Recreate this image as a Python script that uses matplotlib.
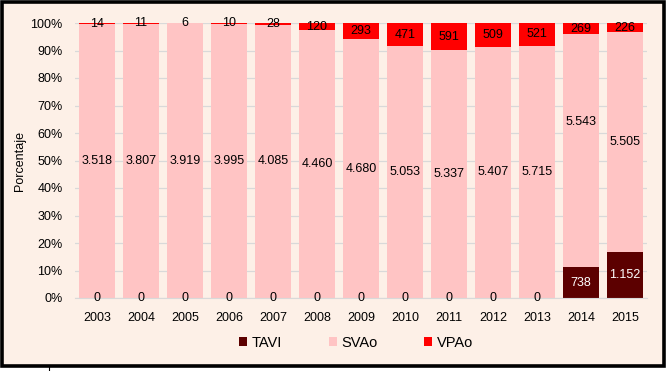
import matplotlib
matplotlib.use("Agg")
import matplotlib.pyplot as plt
from matplotlib.patches import Rectangle, Patch
from matplotlib.lines import Line2D
import numpy as np

plt.rcParams['font.family'] = ['Liberation Sans', 'DejaVu Sans']

years = ['2003', '2004', '2005', '2006', '2007', '2008', '2009', '2010',
         '2011', '2012', '2013', '2014', '2015']
tavi = [0, 0, 0, 0, 0, 0, 0, 0, 0, 0, 0, 738, 1152]
svao = [3518, 3807, 3919, 3995, 4085, 4460, 4680, 5053, 5337, 5407, 5715, 5543, 5505]
vpao = [14, 11, 6, 10, 28, 120, 293, 471, 591, 509, 521, 269, 226]

series_names = ['TAVI', 'SVAo', 'VPAo']
colors = ['#5C0000', '#FFC4C4', '#FF0000']
bg = '#FDF0E7'

def fmt(v):
    return f"{v:,}".replace(",", ".")

t = np.array(tavi, float)
s = np.array(svao, float)
v = np.array(vpao, float)
tot = t + s + v
tp = t / tot * 100
sp = s / tot * 100
vp = v / tot * 100

fig = plt.figure(figsize=(6.69, 3.71), dpi=100, facecolor='white')
# framed background
fig.patches.append(Rectangle((2/669, 1 - 365.5/371), 662/669, 364/371,
                             transform=fig.transFigure, facecolor=bg,
                             edgecolor='black', linewidth=2.6, zorder=-10))
fig.lines.append(Line2D([48.5/669, 48.5/669], [0, 4/371], transform=fig.transFigure,
                        color='black', linewidth=0.8, zorder=-5))

ax = fig.add_axes([75/669, 1 - 298/371, 572/669, 275/371])
ax.set_zorder(1)
ax.patch.set_visible(False)
x = np.arange(len(years))
w = 0.84
ax.bar(x, tp, w, color=colors[0], zorder=2)
ax.bar(x, sp, w, bottom=tp, color=colors[1], zorder=2)
ax.bar(x, vp, w, bottom=tp + sp, color=colors[2], zorder=2)

ax.set_xlim(-0.5, len(years) - 0.5)
ax.set_ylim(0, 100)
ax.set_yticks(np.arange(0, 101, 10))
ax.set_yticklabels([f"{i}%" for i in range(0, 101, 10)], fontsize=9)
ax.set_xticks(x)
ax.set_xticklabels(years, fontsize=9)
ax.tick_params(axis='both', length=0)
ax.tick_params(axis='x', pad=10)
ax.tick_params(axis='y', pad=9)
ax.grid(axis='y', color='#D9D9D9', linewidth=0.9, zorder=1)
ax.set_axisbelow(True)
for sp_ in ['top', 'right', 'left']:
    ax.spines[sp_].set_visible(False)
ax.spines['bottom'].set_color('#D9D9D9')
fig.text(20/669, 1 - 160.5/371, 'Porcentaje', rotation=90, ha='center', va='center',
         fontsize=9)

for i in range(len(years)):
    # TAVI
    if tavi[i] == 0:
        ax.text(x[i], 0, fmt(tavi[i]), ha='center', va='center', fontsize=9, zorder=4)
    else:
        ax.text(x[i], tp[i] / 2, fmt(tavi[i]), ha='center', va='center', fontsize=9,
                color='white', zorder=4)
    # SVAo
    ys = tp[i] + sp[i] / 2
    if years[i] == '2014':
        ys += 10.5
    ax.text(x[i], ys, fmt(svao[i]), ha='center', va='center', fontsize=9, zorder=4)
    # VPAo
    ax.text(x[i], tp[i] + sp[i] + vp[i] / 2, fmt(vpao[i]), ha='center', va='center',
            fontsize=9, zorder=4)

handles = [Patch(facecolor=c, edgecolor='none') for c in colors]
fig.legend(handles, series_names, loc='center', bbox_to_anchor=(356/669, 1 - 343/371),
           ncol=3, frameon=False, fontsize=10.5, handlelength=0.55, handleheight=0.55,
           handletextpad=0.3, columnspacing=3.2)

fig.savefig('out.png', dpi=100, facecolor='white')
